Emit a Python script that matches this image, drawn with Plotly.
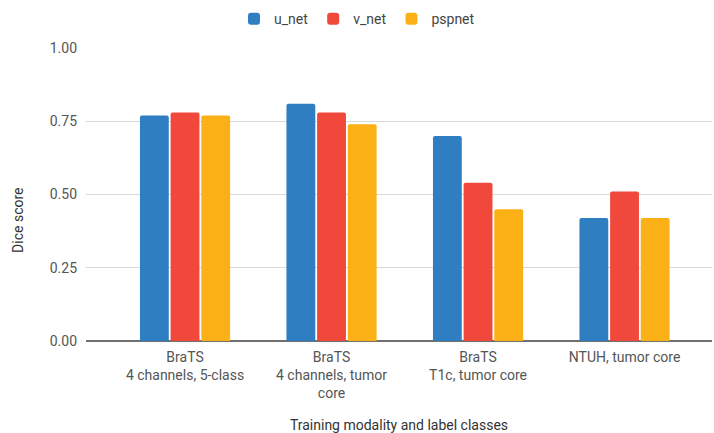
import plotly.graph_objects as go

categories = ["BraTS<br>4 channels, 5-class",
              "BraTS<br>4 channels, tumor<br>core",
              "BraTS<br>T1c, tumor core",
              "NTUH, tumor core"]
u_net = [0.77, 0.81, 0.70, 0.42]
v_net = [0.78, 0.78, 0.54, 0.51]
pspnet = [0.77, 0.74, 0.45, 0.42]
y_ticks = [0, 0.25, 0.5, 0.75, 1.0]
y_tick_labels = ["0.00", "0.25", "0.50", "0.75", "1.00"]

fig = go.Figure()
for name, vals, color in [("u_net", u_net, "#2F7EC1"),
                          ("v_net", v_net, "#F0483A"),
                          ("pspnet", pspnet, "#FBB116")]:
    fig.add_trace(go.Bar(x=categories, y=vals, name=name,
                         marker=dict(color=color, line=dict(width=0))))

fig.update_layout(
    width=714, height=433,
    margin=dict(l=86, r=2, t=48, b=92, autoexpand=False),
    template='plotly_white',
    paper_bgcolor='white', plot_bgcolor='white',
    font=dict(family='Roboto', size=14, color='#555555'),
    barmode='group', bargap=0.372, bargroupgap=0.06, barcornerradius=2,
    legend=dict(orientation='h', x=0.5, xanchor='center', y=0.956, yanchor='middle',
                yref='container', xref='container', font=dict(size=14, color='#444444'),
                itemclick=False),
    annotations=[dict(text='Dice score', textangle=-90, x=-0.1086, xref='paper',
                      xanchor='center', yanchor='middle',
                      y=0.41, yref='paper', showarrow=False,
                      font=dict(size=14, color='#333333'))],
)
fig.update_xaxes(range=[-0.676, 3.597], showgrid=False, showline=False, zeroline=False,
                 ticks='', ticklabelstandoff=6, automargin=False,
                 title=dict(text='Training modality and label classes',
                            font=dict(size=14, color='#333333'), standoff=20))
fig.update_yaxes(range=[0, 1.0], tickvals=y_ticks, ticktext=y_tick_labels,
                 showgrid=True, gridcolor='#d9d9d9', gridwidth=1,
                 zeroline=True, zerolinecolor='#707070', zerolinewidth=2,
                 showline=False, ticks='', ticklabelstandoff=8, automargin=False)

# page default body margin would shift the figure by 8px
fig.write_html("out.html", config={'displayModeBar': False},
               post_script="document.body.style.margin='0';")
